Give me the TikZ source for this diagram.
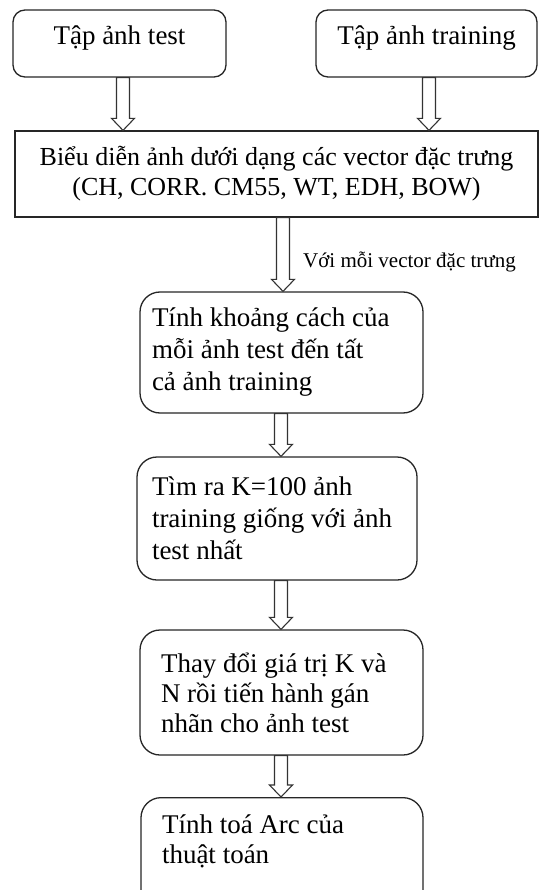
\documentclass[tikz,border=0pt]{standalone}
\usepackage{fontspec}
\setmainfont{Liberation Serif}
\usetikzlibrary{calc}
\begin{document}
\begin{tikzpicture}[x=1pt,y=-1pt,
  box/.style={draw=black!85, line width=1.3pt, fill=white, align=flush left, inner sep=0pt},
  topbox/.style={box, rounded corners=12pt, minimum height=67pt,
    text height=35pt, text depth=32pt, font=\fontsize{27}{32}\selectfont},
  flowbox/.style={box, rounded corners=20pt, font=\fontsize{27}{32}\selectfont},
  blockarrow/.style={draw=black!80, line width=1.1pt, fill=white, line join=miter,
    to path={let \p1=(\tikztostart), \p2=(\tikztotarget) in
      (\x1-6.5pt,\y1) -- (\x1-6.5pt,\y2+12pt) -- (\x1-11.5pt,\y2+12pt) -- (\x1,\y2)
      -- (\x1+11.5pt,\y2+12pt) -- (\x1+6.5pt,\y2+12pt) -- (\x1+6.5pt,\y1) -- cycle}},
  note/.style={font=\fontsize{21}{24}\selectfont, anchor=west, inner sep=0pt}]
\useasboundingbox (0,0) rectangle (539,890);

% input sets
\node[topbox, minimum width=213pt] (A) at (119.5,43.5) {Tập ảnh test};
\node[topbox, minimum width=221pt] (B) at (426.5,43.5) {Tập ảnh training};

% feature representation
\node[box, align=center, minimum width=523pt, minimum height=86pt,
  font=\fontsize{26}{30}\selectfont] (C) at (276.5,174)
  {Biểu diễn ảnh dưới dạng các vector đặc trưng\\(CH, CORR. CM55, WT, EDH, BOW)};

% processing steps
\node[flowbox, inner xsep=12pt, text width=259pt, minimum height=121pt] (D) at (281.5,352.5)
  {Tính khoảng cách của\\mỗi ảnh test đến tất\\cả ảnh training};
\node[flowbox, inner xsep=15pt, text width=250pt, minimum height=123pt] (E) at (277,518.5)
  {Tìm ra K=100 ảnh\\training giống với ảnh\\test nhất};
\node[flowbox, inner xsep=21pt, text width=241pt, minimum height=125pt,
  font=\fontsize{27}{30}\selectfont] (F) at (281.5,692.5)
  {Thay đổi giá trị K và\\N rồi tiến hành gán\\nhãn cho ảnh test};
\node[flowbox, anchor=north, inner xsep=21pt, text width=240pt,
  font=\fontsize{27}{30}\selectfont] (G) at (282,797)
  {\rule{0pt}{36pt}Tính toá  Arc của\\thuật toán\rule[-60pt]{0pt}{60pt}};

% connectors
\draw[blockarrow] ([xshift=3.5pt]A.south) to ([xshift=3.5pt]A.south |- C.north);
\draw[blockarrow] ([xshift=2.5pt]B.south) to ([xshift=2.5pt]B.south |- C.north);
\coordinate (cd) at ([xshift=1.5pt]D.north);
\draw[blockarrow] (C.south -| cd) to (cd);
\node[note] (lbl) at (303,262) {Với mỗi vector đặc trưng};
\coordinate (de) at ([xshift=-0.5pt]D.south);
\draw[blockarrow] (de) to (de |- E.north);
\coordinate (ef) at (E.south);
\draw[blockarrow] ([xshift=4pt]ef) to ([xshift=4pt]ef |- F.north);
\coordinate (fg) at ([xshift=-0.5pt]F.south);
\draw[blockarrow] (fg) to (fg |- G.north);
\end{tikzpicture}
\end{document}
